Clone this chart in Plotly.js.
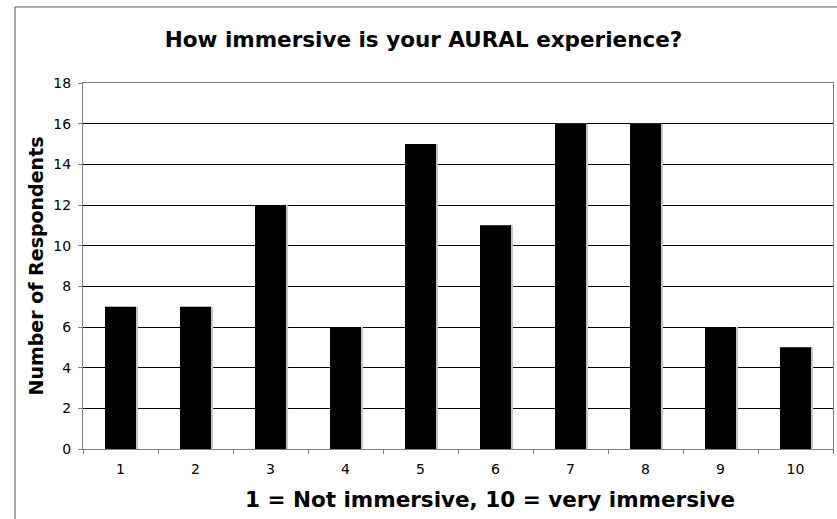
<!DOCTYPE html>
<html>
<head>
<meta charset="utf-8">
<script src="https://cdn.plot.ly/plotly-3.0.1.min.js"></script>
<style>html,body{margin:0;padding:0;background:#fff;}#chart{width:837px;height:519px;}</style>
</head>
<body>
<div id="chart"></div>
<script>
const categories = ["1","2","3","4","5","6","7","8","9","10"];
const respondents = [7, 7, 12, 6, 15, 11, 16, 16, 6, 5];
const yTicks = [0, 2, 4, 6, 8, 10, 12, 14, 16, 18];

const barW = 0.413;
const shadowShift = 0.027;
const font = "'DejaVu Sans', Verdana, sans-serif";

const shadow = {
  type: "bar", x: categories, y: respondents,
  width: barW, offset: -barW / 2 + shadowShift,
  marker: { color: "#c4c4c4", line: { width: 0 } },
  hoverinfo: "skip", showlegend: false
};
const bars = {
  type: "bar", x: categories, y: respondents,
  width: barW, offset: -barW / 2,
  marker: { color: "#000000", line: { width: 0 } },
  showlegend: false
};

const layout = {
  width: 837, height: 519,
  margin: { l: 83, r: 4, t: 83, b: 70 },
  paper_bgcolor: "#ffffff", plot_bgcolor: "#ffffff",
  barmode: "overlay",
  font: { family: font, color: "#000" },
  title: {
    text: "<b>How immersive is your AURAL experience?</b>",
    font: { family: font, size: 21.5, color: "#000" },
    x: 0.506, xref: "container", xanchor: "center",
    y: 0.923, yref: "container", yanchor: "middle"
  },
  xaxis: {
    type: "category",
    tickson: "boundaries",
    ticks: "outside", ticklen: 4, tickcolor: "#808080",
    showline: true, linecolor: "#808080", linewidth: 1,
    mirror: true,
    showgrid: false, zeroline: false,
    ticklabelstandoff: 7,
    tickfont: { family: font, size: 14, color: "#000" }
  },
  yaxis: {
    range: [0, 18],
    tickvals: yTicks, ticktext: yTicks.map(String),
    ticks: "outside", ticklen: 4, tickcolor: "#808080",
    showline: true, linecolor: "#808080", linewidth: 1,
    mirror: true,
    showgrid: true, gridcolor: "#000000", gridwidth: 1,
    zeroline: false,
    ticklabelstandoff: 4,
    tickfont: { family: font, size: 14, color: "#000" },
    title: { text: "<b>Number of Respondents</b>", font: { family: font, size: 19, color: "#000" }, standoff: 4 }
  },
  annotations: [{
    text: "<b>1 = Not immersive, 10 = very immersive</b>",
    xref: "paper", yref: "paper", x: 0.5427, y: -0.139,
    xanchor: "center", yanchor: "middle", showarrow: false,
    font: { family: font, size: 21.5, color: "#000" }
  }],
  shapes: [{
    type: "rect", xref: "paper", yref: "paper",
    x0: -0.0907, x1: 1.2, y0: -0.4, y1: 1.2077,
    line: { color: "#555555", width: 1 }, fillcolor: "rgba(0,0,0,0)", layer: "below"
  }]
};

Plotly.newPlot("chart", [shadow, bars], layout, { displayModeBar: false, staticPlot: true });
</script>
</body>
</html>
